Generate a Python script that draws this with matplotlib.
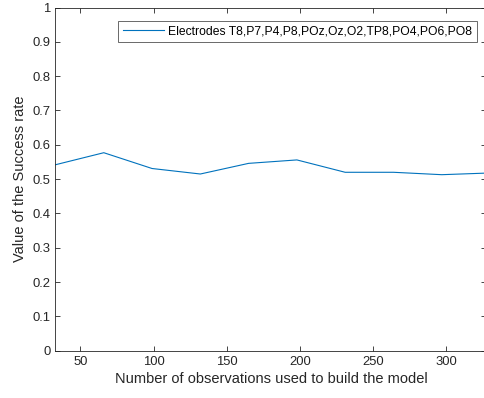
import matplotlib
matplotlib.use("Agg")
import matplotlib.pyplot as plt

plt.rcParams['font.family'] = ['Liberation Sans', 'DejaVu Sans']

observations = [33, 66, 99, 132, 165, 198, 231, 264, 297, 330]
success_rate = [0.542, 0.577, 0.531, 0.515, 0.546, 0.556, 0.520, 0.520, 0.513, 0.518]
series_label = "Electrodes T8,P7,P4,P8,POz,Oz,O2,TP8,PO4,PO6,PO8"
x_ticks = [50, 100, 150, 200, 250, 300]
y_ticks = [0, 0.1, 0.2, 0.3, 0.4, 0.5, 0.6, 0.7, 0.8, 0.9, 1]
y_ticklabels = ['0', '0.1', '0.2', '0.3', '0.4', '0.5', '0.6', '0.7', '0.8', '0.9', '1']

W, H = 485, 398
fig = plt.figure(figsize=(W / 100, H / 100), dpi=100)
left, right, top, bottom = 55.5, 486.5, 7.5, 350.8
ax = fig.add_axes([left / W, 1 - bottom / H, (right - left) / W, (bottom - top) / H])

dark = '#262626'
ax.plot(observations, success_rate, color='#0072BD', lw=0.8, label=series_label)
ax.set_xlim(33, 327.6)
ax.set_ylim(0, 1)
ax.set_xticks(x_ticks)
ax.set_yticks(y_ticks)
ax.set_yticklabels(y_ticklabels)
ax.tick_params(direction='in', top=True, right=True, length=3.5, width=0.6,
               colors=dark, labelsize=9.4, labelcolor=dark)
for s in ax.spines.values():
    s.set_color(dark)
    s.set_linewidth(0.6)
ax.set_xlabel('Number of observations used to build the model', fontsize=10.5, color=dark, labelpad=3)
ax.set_ylabel('Value of the Success rate', fontsize=10.5, color=dark, labelpad=4)

leg = ax.legend(loc='upper right', bbox_to_anchor=((476.7 - left) / (right - left), 1 - (21.5 - top) / (bottom - top)),
                fontsize=8.7, frameon=True, fancybox=False, borderaxespad=0,
                handlelength=3.45, handletextpad=0.35, borderpad=0.35)
leg.get_frame().set_edgecolor(dark)
leg.get_frame().set_linewidth(0.6)
for t in leg.get_texts():
    t.set_color('black')

fig.savefig('out.png', dpi=100)
